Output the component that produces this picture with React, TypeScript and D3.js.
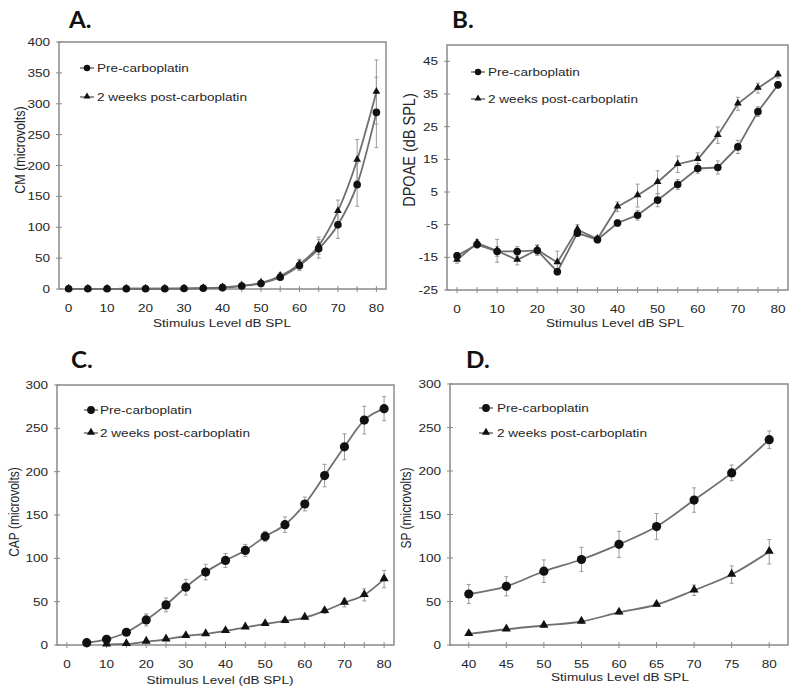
import React from "react";
import * as d3 from "d3";

// ---------- DATA ----------
// Panel A: CM
const cmLevels = [0, 5, 10, 15, 20, 25, 30, 35, 40, 45, 50, 55, 60, 65, 70, 75, 80];
const cmPre = [0.3, 0.3, 0.3, 0.4, 0.4, 0.5, 0.7, 1.2, 2.2, 4.8, 9, 19, 38, 65, 104, 169, 286];
const cmPreErr = [0.2, 0.2, 0.2, 0.2, 0.2, 0.3, 0.3, 0.5, 0.8, 1.5, 2.5, 4, 8, 15, 22, 35, 57];
const cmPost = [0.3, 0.3, 0.3, 0.4, 0.4, 0.5, 0.8, 1.4, 2.5, 5.5, 10, 21, 40, 70, 126, 209, 319];
const cmPostErr = [0.2, 0.2, 0.2, 0.2, 0.2, 0.3, 0.3, 0.5, 0.8, 1.5, 3, 5, 8, 14, 18, 33, 52];
const cmTicks = [0, 50, 100, 150, 200, 250, 300, 350, 400];
const cmLabels = [0, 10, 20, 30, 40, 50, 60, 70, 80];

// Panel B: DPOAE
const dpLevels = [0, 5, 10, 15, 20, 25, 30, 35, 40, 45, 50, 55, 60, 65, 70, 75, 80];
const dpPre = [-14.5, -11.1, -13.2, -13.2, -12.9, -19.4, -7.6, -9.6, -4.5, -2.1, 2.5, 7.3, 12.2, 12.5, 18.8, 29.6, 37.8];
const dpPreErr = [1, 1, 1.5, 1.5, 1.5, 1, 1, 1, 1, 1.5, 2, 1.5, 1.5, 2, 2, 1.5, 1];
const dpPost = [-15.8, -10.6, -13.0, -15.8, -12.7, -16.6, -6.5, -9.4, 0.5, 3.9, 8.0, 13.5, 15.0, 22.4, 32.0, 36.8, 40.9];
const dpPostErr = [1, 1, 3.5, 1.5, 1.5, 3.5, 1.5, 1, 1.5, 3.5, 3.5, 2.5, 2, 2.5, 2, 1.5, 1];
const dpTicks = [-25, -15, -5, 5, 15, 25, 35, 45];
const dpLabels = [0, 10, 20, 30, 40, 50, 60, 70, 80];

// Panel C: CAP
const capLevels = [0, 5, 10, 15, 20, 25, 30, 35, 40, 45, 50, 55, 60, 65, 70, 75, 80];
const capPre = [null, 2.7, 6.6, 14.7, 28.9, 46.3, 66.7, 84.1, 97.6, 109.1, 125.3, 138.8, 162.7, 195.5, 228.7, 259.5, 272.7];
const capPreErr = [null, 1, 2, 3, 7, 8, 9, 9, 8, 7, 6, 9, 8, 13, 15, 16, 14];
const capPost = [null, null, 0.8, 1.2, 3.9, 6.6, 10.4, 12.7, 16.2, 20.4, 24.3, 27.8, 31.6, 39.3, 49, 57.8, 76];
const capPostErr = [null, null, 1, 1, 1, 1.5, 1.5, 1.5, 1.5, 1.5, 1.5, 2, 2, 3, 5, 7, 10];
const capTicks = [0, 50, 100, 150, 200, 250, 300];
const capLabels = [0, 10, 20, 30, 40, 50, 60, 70, 80];

// Panel D: SP
const spLevels = [40, 45, 50, 55, 60, 65, 70, 75, 80];
const spPre = [58.6, 67.5, 84.8, 98.3, 115.7, 136.1, 166.6, 197.8, 236];
const spPreErr = [11, 11, 13, 14, 15, 15, 14, 9, 10];
const spPost = [12.7, 18.1, 22.4, 27, 37.4, 46.3, 62.9, 81, 107.2];
const spPostErr = [1.5, 1.5, 2, 2, 2, 2, 6, 10, 14];
const spTicks = [0, 50, 100, 150, 200, 250, 300];
const spLabels = [40, 45, 50, 55, 60, 65, 70, 75, 80];

const legendPre = "Pre-carboplatin";
const legendPost = "2 weeks post-carboplatin";

// ---------- STYLE ----------
const FONT = "'Liberation Sans', Arial, Helvetica, sans-serif";
const LINE = "#6f6f6f";
const MARK = "#111";
const ERR = "#9a9a9a";
const FRAME = "#8a8a8a";
const TEXT = "#262626";
const SX = 1.18;

type TProps = {
  x: number; y: number; size: number; anchor?: string; rotate?: boolean;
  weight?: string | number; family?: string; fill?: string; sx?: number; dy?: string;
  children: React.ReactNode;
};
function SText({ x, y, size, anchor = "start", rotate = false, weight = "normal", family = FONT, fill = TEXT, sx = SX, dy = "0", children }: TProps) {
  const tr = rotate
    ? `translate(${x},${y}) rotate(-90) scale(1,${sx})`
    : `translate(${x},${y}) scale(${sx},1)`;
  return (
    <text transform={tr} fontSize={size} fontFamily={family} fontWeight={weight} textAnchor={anchor} fill={fill} dy={dy}>
      {children}
    </text>
  );
}

type Series = { values: (number | null)[]; errs: (number | null)[]; kind: "circle" | "triangle" };
type PanelCfg = {
  left: number; right: number; top: number; bottom: number;
  cats: number[]; xLabels: number[]; yDomain: [number, number]; yTicks: number[];
  series: Series[]; smooth: boolean; r: number; triSize: number;
  letter: string; letterX: number; letterY: number;
  yTitle: string; yTitleX: number; yTitleY: number; yTitleSize: number;
  xTitle: string; xTitleX: number; xTitleY: number; xTitleSize: number;
  legX: number; legY1: number; legY2: number; legTextX: number;
};

function Marker({ kind, x, y, r, tri }: { kind: string; x: number; y: number; r: number; tri: number }) {
  if (kind === "circle") return <circle cx={x} cy={y} r={r} fill={MARK} />;
  const p = d3.symbol(d3.symbolTriangle, tri)() as string;
  return <path d={p} transform={`translate(${x},${y - 0.5})`} fill={MARK} />;
}

function Panel({ c }: { c: PanelCfg }) {
  const x = d3.scalePoint<number>().domain(c.cats).range([c.left, c.right]).padding(0.5);
  const y = d3.scaleLinear().domain(c.yDomain).range([c.bottom, c.top]);
  const curve = c.smooth ? d3.curveMonotoneX : d3.curveLinear;
  return (
    <g>
      <rect x={c.left} y={c.top} width={c.right - c.left} height={c.bottom - c.top} fill="none" stroke={FRAME} strokeWidth={1.5} />
      {c.yTicks.map((t) => (
        <g key={"y" + t}>
          <line x1={c.left - 3} x2={c.left + 3} y1={y(t)} y2={y(t)} stroke={FRAME} strokeWidth={1} />
          <SText x={c.left - 9} y={y(t)} size={11.5} anchor="end" dy="0.35em">{t}</SText>
        </g>
      ))}
      {c.cats.map((t) => (
        <line key={"xt" + t} x1={x(t)!} x2={x(t)!} y1={c.bottom - 3} y2={c.bottom + 3} stroke={FRAME} strokeWidth={1} />
      ))}
      {c.xLabels.map((t) => (
        <SText key={"xl" + t} x={x(t)!} y={c.bottom + 23} size={11.5} anchor="middle">{t}</SText>
      ))}
      {c.series.map((s, si) =>
        s.values.map((v, i) => {
          const e = s.errs[i];
          if (v == null || e == null) return null;
          const xx = x(c.cats[i])!;
          const y1 = y(v - e), y2 = y(v + e);
          return (
            <g key={`e${si}-${i}`} stroke={ERR} strokeWidth={1}>
              <line x1={xx} x2={xx} y1={y1} y2={y2} />
              <line x1={xx - 2} x2={xx + 2} y1={y1} y2={y1} />
              <line x1={xx - 2} x2={xx + 2} y1={y2} y2={y2} />
            </g>
          );
        })
      )}
      {c.series.map((s, si) => {
        const pts = s.values.map((v, i) => ({ v, c: c.cats[i] })).filter((p) => p.v != null) as { v: number; c: number }[];
        const line = d3.line<{ v: number; c: number }>().x((p) => x(p.c)!).y((p) => y(p.v)).curve(curve);
        return <path key={"l" + si} d={line(pts) || ""} fill="none" stroke={LINE} strokeWidth={1.8} />;
      })}
      {c.series.map((s, si) =>
        s.values.map((v, i) =>
          v == null ? null : <Marker key={`m${si}-${i}`} kind={s.kind} x={x(c.cats[i])!} y={y(v)} r={c.r} tri={c.triSize} />
        )
      )}
      <line x1={c.legX - 7} x2={c.legX + 7} y1={c.legY1} y2={c.legY1} stroke={LINE} strokeWidth={1.5} />
      <Marker kind="circle" x={c.legX} y={c.legY1} r={c.r * 0.85} tri={c.triSize} />
      <SText x={c.legTextX} y={c.legY1} size={11.5} dy="0.35em">{legendPre}</SText>
      <line x1={c.legX - 7} x2={c.legX + 7} y1={c.legY2} y2={c.legY2} stroke={LINE} strokeWidth={1.5} />
      <Marker kind="triangle" x={c.legX} y={c.legY2} r={c.r} tri={c.triSize * 0.8} />
      <SText x={c.legTextX} y={c.legY2} size={11.5} dy="0.35em">{legendPost}</SText>
      <SText x={c.yTitleX} y={c.yTitleY} size={c.yTitleSize} anchor="middle" rotate>{c.yTitle}</SText>
      <SText x={c.xTitleX} y={c.xTitleY} size={c.xTitleSize} anchor="middle">{c.xTitle}</SText>
      <SText x={c.letterX} y={c.letterY} size={22} weight="bold" family="Lato, 'Open Sans', sans-serif" fill="#111" sx={1.1}>{c.letter}</SText>
    </g>
  );
}

const panels: PanelCfg[] = [
  {
    left: 59, right: 386, top: 42, bottom: 289, cats: cmLevels, xLabels: cmLabels, yDomain: [0, 400], yTicks: cmTicks,
    series: [
      { values: cmPre, errs: cmPreErr, kind: "circle" },
      { values: cmPost, errs: cmPostErr, kind: "triangle" },
    ],
    smooth: true, r: 3.8, triSize: 26,
    letter: "A.", letterX: 69, letterY: 28,
    yTitle: "CM (microvolts)", yTitleX: 25, yTitleY: 150, yTitleSize: 12.5,
    xTitle: "Stimulus Level dB SPL", xTitleX: 222, xTitleY: 327, xTitleSize: 11.5,
    legX: 87, legY1: 68, legY2: 97, legTextX: 97,
  },
  {
    left: 447, right: 788, top: 45, bottom: 290, cats: dpLevels, xLabels: dpLabels, yDomain: [-25, 50], yTicks: dpTicks,
    series: [
      { values: dpPre, errs: dpPreErr, kind: "circle" },
      { values: dpPost, errs: dpPostErr, kind: "triangle" },
    ],
    smooth: false, r: 3.8, triSize: 26,
    letter: "B.", letterX: 452, letterY: 28,
    yTitle: "DPOAE (dB SPL)", yTitleX: 415, yTitleY: 150, yTitleSize: 14.5,
    xTitle: "Stimulus Level dB SPL", xTitleX: 615, xTitleY: 327, xTitleSize: 11.5,
    legX: 478, legY1: 72, legY2: 99, legTextX: 488,
  },
  {
    left: 57, right: 394, top: 385, bottom: 645, cats: capLevels, xLabels: capLabels, yDomain: [0, 300], yTicks: capTicks,
    series: [
      { values: capPre, errs: capPreErr, kind: "circle" },
      { values: capPost, errs: capPostErr, kind: "triangle" },
    ],
    smooth: true, r: 4.6, triSize: 36,
    letter: "C.", letterX: 71, letterY: 368,
    yTitle: "CAP (microvolts)", yTitleX: 19, yTitleY: 512, yTitleSize: 12,
    xTitle: "Stimulus Level (dB SPL)", xTitleX: 220, xTitleY: 684, xTitleSize: 11.5,
    legX: 91, legY1: 410, legY2: 433, legTextX: 100,
  },
  {
    left: 450, right: 788, top: 384, bottom: 645, cats: spLevels, xLabels: spLabels, yDomain: [0, 300], yTicks: spTicks,
    series: [
      { values: spPre, errs: spPreErr, kind: "circle" },
      { values: spPost, errs: spPostErr, kind: "triangle" },
    ],
    smooth: true, r: 4.6, triSize: 36,
    letter: "D.", letterX: 466, letterY: 368,
    yTitle: "SP (microvolts)", yTitleX: 411, yTitleY: 508, yTitleSize: 12,
    xTitle: "Stimulus Level dB SPL", xTitleX: 620, xTitleY: 681, xTitleSize: 11.5,
    legX: 486, legY1: 408, legY2: 433, legTextX: 497,
  },
];

export default function App() {
  return (
    <svg width={800} height={694} style={{ position: "absolute", left: 0, top: 0, background: "#fff" }}>
      <rect width={800} height={694} fill="#fff" />
      {panels.map((p, i) => (
        <Panel key={i} c={p} />
      ))}
    </svg>
  );
}
